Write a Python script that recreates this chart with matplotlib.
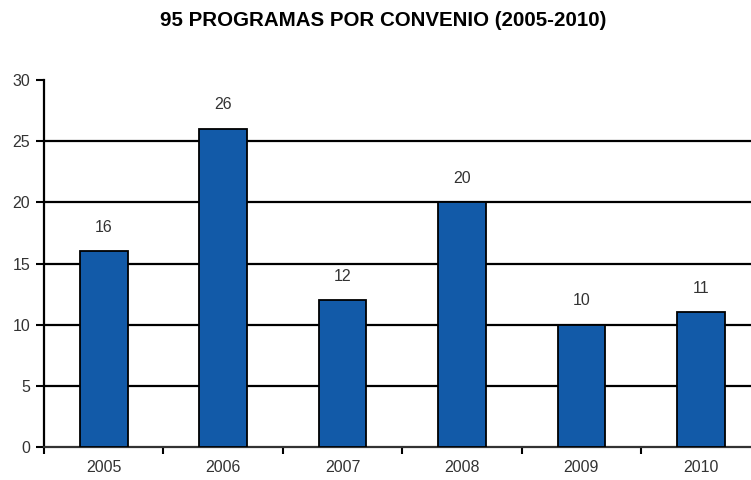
import matplotlib.pyplot as plt
import numpy as np

plt.rcParams['font.family'] = ['Liberation Sans', 'DejaVu Sans']

years = ['2005', '2006', '2007', '2008', '2009', '2010']
programas = [16, 26, 12, 20, 10, 11]

fig = plt.figure(figsize=(7.51, 4.8), dpi=100)
ax = fig.add_axes([44 / 751, 1 - 447 / 480, 1 - 44 / 751, (447 - 80) / 480])

x = np.arange(len(years))
ax.set_axisbelow(True)
bars = ax.bar(x, programas, width=0.4, color='#125AA8', edgecolor='black', linewidth=1.3, zorder=3)

# horizontal lines at 5..25 (none at the top)
for yv in range(5, 30, 5):
    ax.axhline(yv, color='black', linewidth=1.6, zorder=1)

for xi, v in zip(x, programas):
    ax.annotate(str(v), (xi, v), xytext=(0, 12), textcoords='offset points',
                ha='center', va='bottom', fontsize=11.5, color='#333333')

ax.set_ylim(0, 30)
ax.set_yticks(range(0, 31, 5))
ax.set_xlim(-0.5, 5.42)
ax.set_xticks(x)
ax.set_xticklabels(years)
ax.set_xticks(np.arange(-0.5, 5.4, 1), minor=True)
ax.tick_params(axis='x', which='major', length=0, labelsize=11.5, pad=9, labelcolor='#333333')
ax.tick_params(axis='x', which='minor', length=5, width=1.5, direction='out')
ax.tick_params(axis='y', length=6, width=1.5, direction='out', labelsize=11.5, pad=4, labelcolor='#333333')

for s in ['top', 'right']:
    ax.spines[s].set_visible(False)
ax.spines['left'].set_linewidth(1.6)
ax.spines['bottom'].set_linewidth(1.6)
ax.spines['bottom'].set_color('#333333')

fig.text(383 / 751, 1 - 20 / 480, '95 PROGRAMAS POR CONVENIO (2005-2010)', ha='center', va='center',
         fontsize=14.8, fontweight='bold')

fig.savefig('out.png', dpi=100)
